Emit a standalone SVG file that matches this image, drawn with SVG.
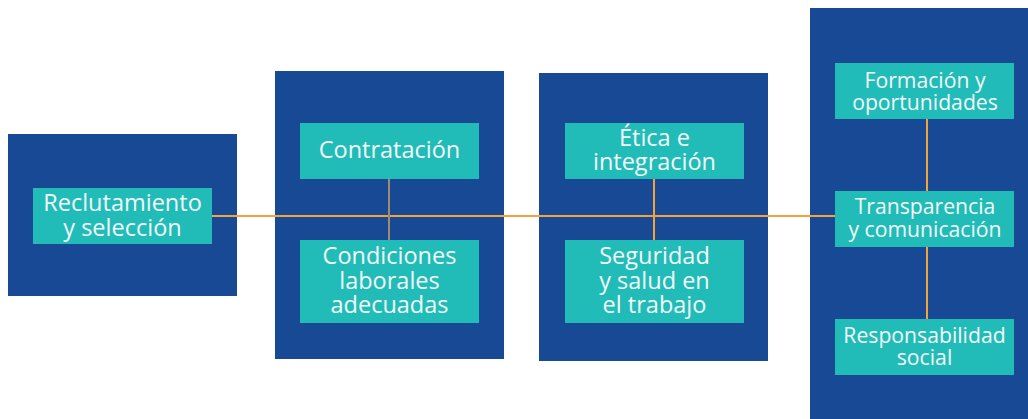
<svg xmlns="http://www.w3.org/2000/svg" width="1028" height="419" viewBox="0 0 1028 419">
<style>
.panel{fill:#174994}
.box{fill:#22bcb8}
.t{font-family:"Open Sans","Noto Sans",sans-serif;font-size:23.5px;fill:#f2fafa;text-anchor:middle}
.s{font-size:21.2px}
.ln{stroke:#f5a23a;stroke-width:2;fill:none}
.lg{stroke:#a08a70;stroke-width:2;fill:none}
</style>
<rect width="1028" height="419" fill="#ffffff"/>
<g id="panels">
<rect class="panel" x="8" y="134" width="229" height="162"/>
<rect class="panel" x="275" y="71" width="229" height="288"/>
<rect class="panel" x="539" y="73" width="229" height="288"/>
<rect class="panel" x="810" y="8" width="218" height="411"/>
</g>
<g id="connectors">
<line class="ln" x1="212" y1="216" x2="835" y2="216"/>
<line class="lg" x1="389" y1="178" x2="389" y2="240"/>
<line class="ln" x1="654" y1="178" x2="654" y2="240"/>
<line class="ln" x1="927" y1="118" x2="927" y2="191"/>
<line class="ln" x1="927" y1="246" x2="927" y2="319"/>
</g>
<g id="reclutamiento">
<rect class="box" x="33" y="188" width="179" height="56"/>
<text class="t" x="122.5" y="211">Reclutamiento</text>
<text class="t" x="122.5" y="236">y selección</text>
</g>
<g id="contratacion">
<rect class="box" x="300" y="123" width="179" height="56"/>
<text class="t" x="389.5" y="158">Contratación</text>
</g>
<g id="condiciones">
<rect class="box" x="300" y="240" width="179" height="83"/>
<text class="t" x="389.5" y="264">Condiciones</text>
<text class="t" x="389.5" y="288.5">laborales</text>
<text class="t" x="389.5" y="313">adecuadas</text>
</g>
<g id="etica">
<rect class="box" x="565" y="123" width="179" height="56"/>
<text class="t" x="654.5" y="146">Ética e</text>
<text class="t" x="654.5" y="170">integración</text>
</g>
<g id="seguridad">
<rect class="box" x="565" y="240" width="179" height="83"/>
<text class="t" x="654.5" y="264">Seguridad</text>
<text class="t" x="654.5" y="288.5">y salud en</text>
<text class="t" x="654.5" y="313">el trabajo</text>
</g>
<g id="formacion">
<rect class="box" x="835" y="63" width="179" height="56"/>
<text class="t s" x="925" y="87.5">Formación y</text>
<text class="t s" x="925" y="109.5">oportunidades</text>
</g>
<g id="transparencia">
<rect class="box" x="835" y="191" width="179" height="56"/>
<text class="t s" x="925" y="213.5">Transparencia</text>
<text class="t s" x="925" y="237">y comunicación</text>
</g>
<g id="responsabilidad">
<rect class="box" x="835" y="319" width="179" height="56"/>
<text class="t s" x="924.5" y="342.5">Responsabilidad</text>
<text class="t s" x="924.5" y="364.5">social</text>
</g>
</svg>
